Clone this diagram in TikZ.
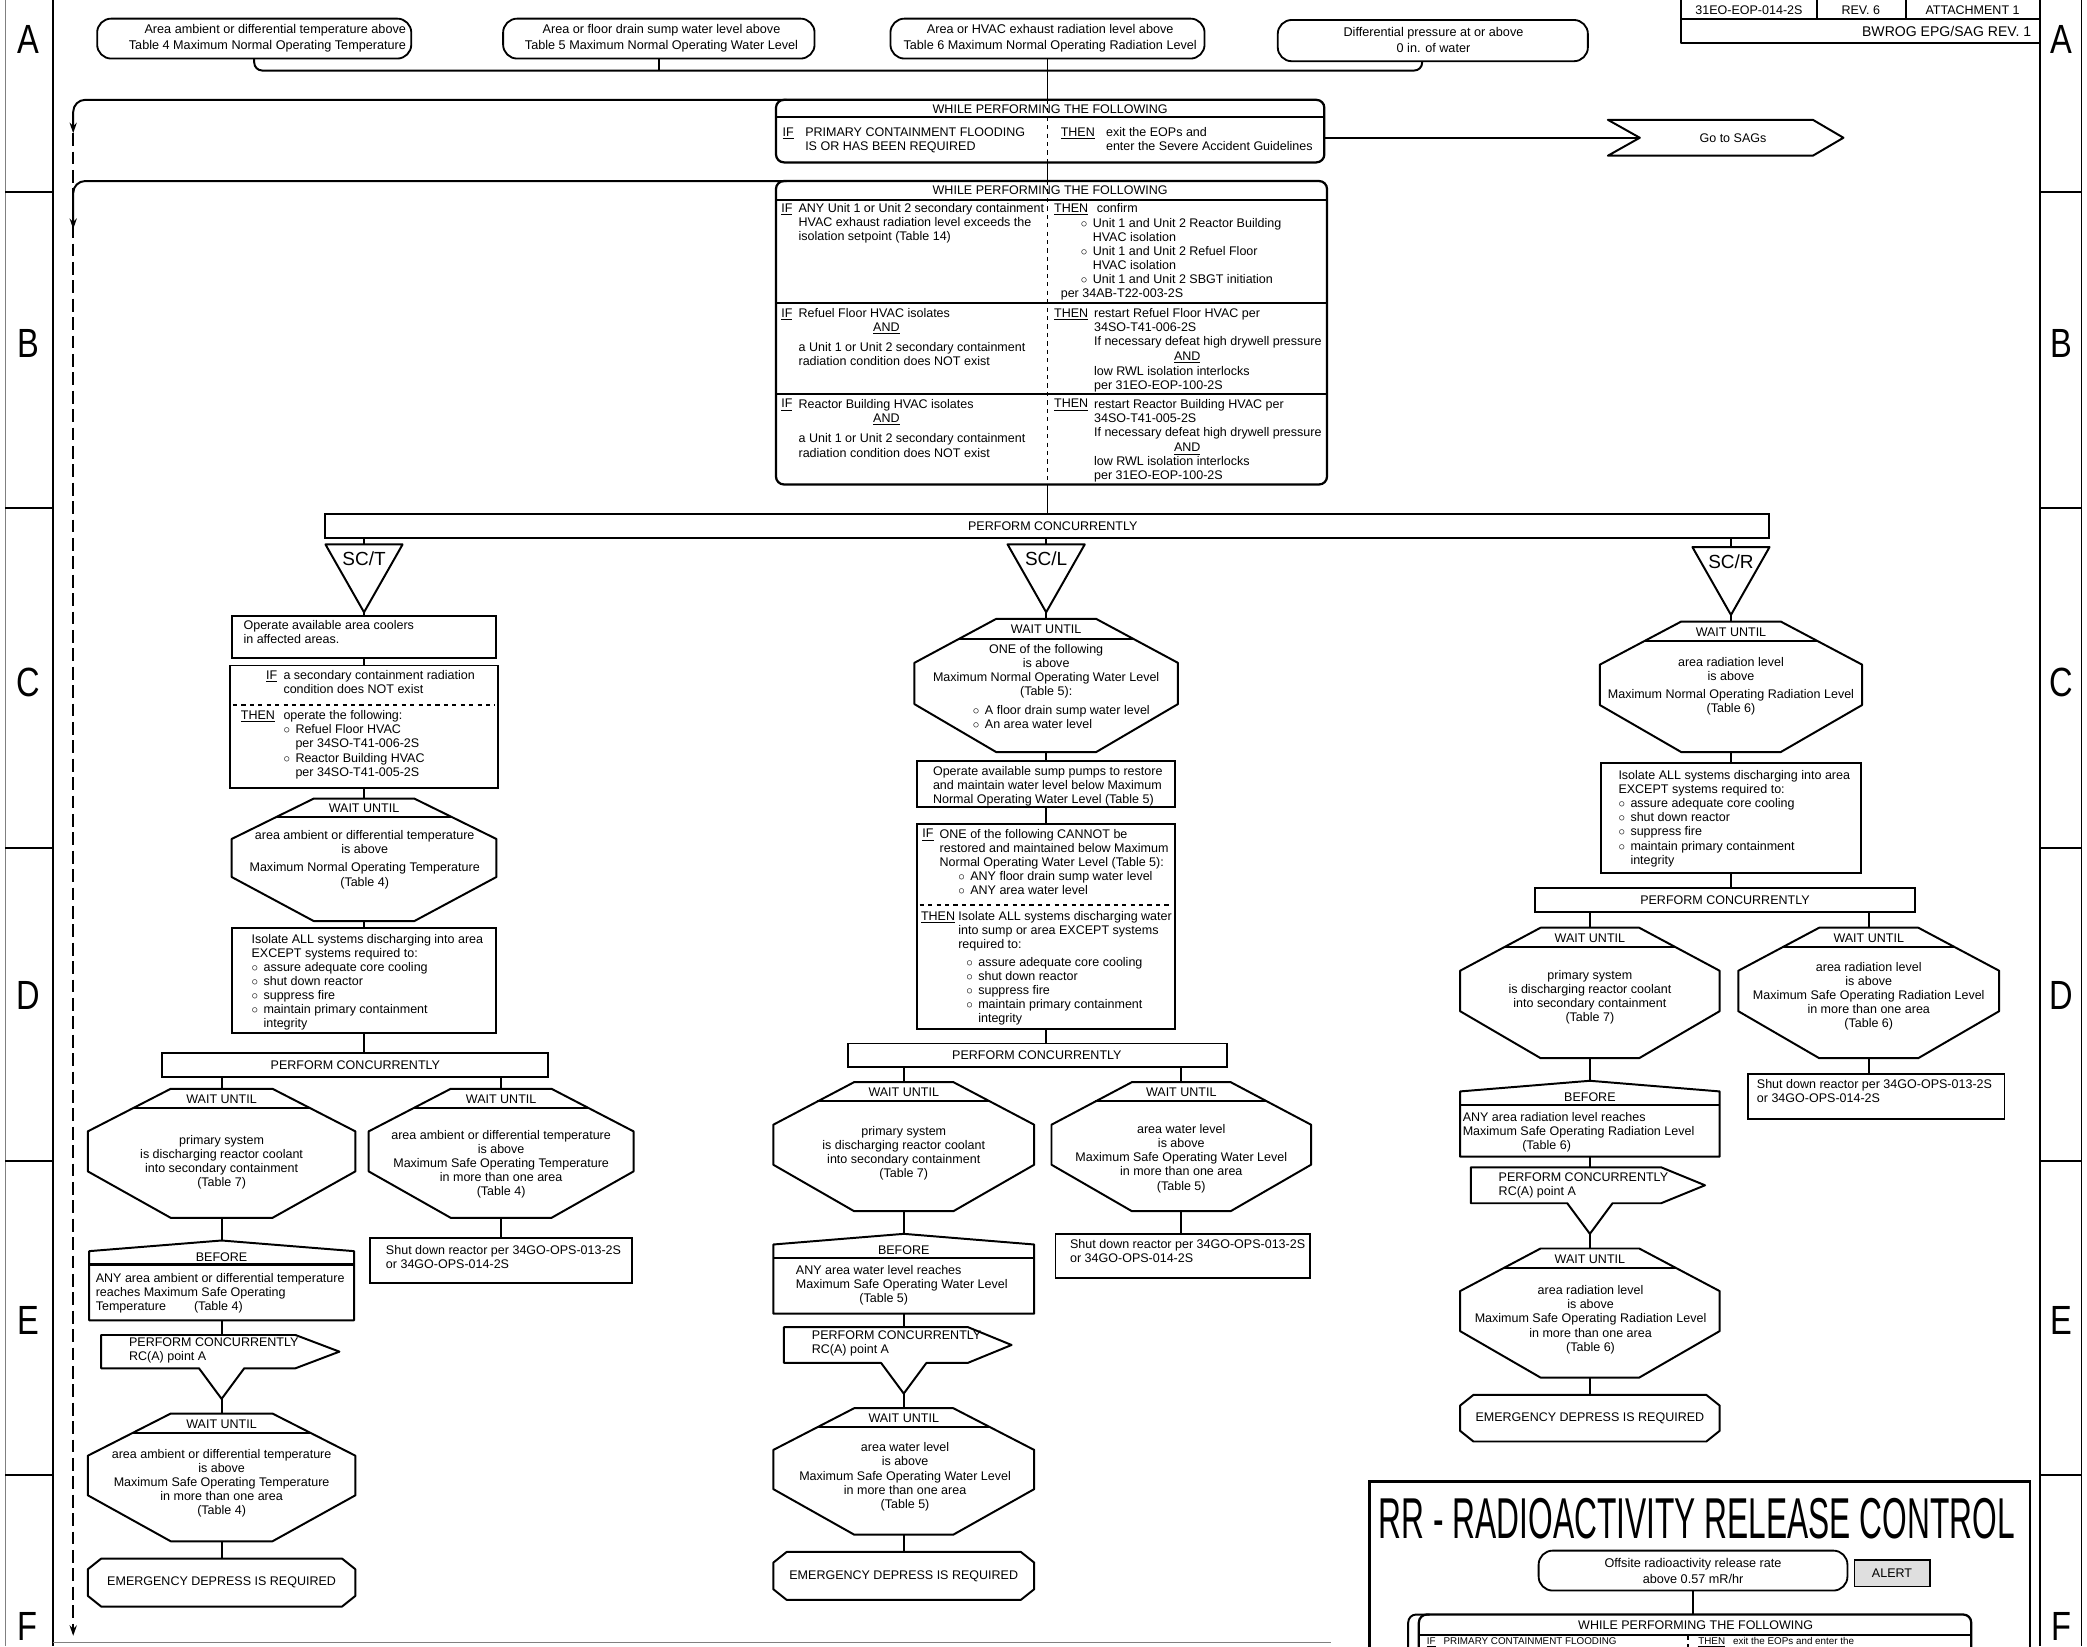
\documentclass[tikz,border=0pt]{standalone}
\usepackage{fontspec}
\setmainfont{Liberation Sans}
\newfontfamily\narrowfont[FakeStretch=0.55]{Liberation Sans}
\newfontfamily\letterfont[FakeStretch=0.8]{Liberation Sans}
\usepackage{graphicx}
\usetikzlibrary{calc,arrows.meta}
\def\U{0.33275mm}
\newcommand\fs{\fontsize{8.9}{10}\selectfont}
\newcommand\fe{\fontsize{9}{11.3}\selectfont}
\newcommand\fsc{\fontsize{13.5}{13.5}\selectfont}
\newcommand\bul{\makebox[3mm][l]{$\circ$}}
\newcommand\bsp{\hspace*{3mm}}
\newcommand\mkBound[5]{\node[anchor=north west,minimum width={(#4)*\U},minimum height={(#5)*\U}] (#1) at (#2,#3) {};}
\newcommand\mkRect[5]{\node[bx,minimum width={(#4)*\U},minimum height={(#5)*\U}] (#1) at (#2,#3) {};}
\newcommand\mkOct[5]{%
 \mkBound{#1}{#2}{#3}{#4}{#5}%
 \draw[ln] ({#2+0.31*#4},#3) -- ({#2+0.69*#4},#3) -- ({#2+#4},{#3+0.33*#5}) -- ({#2+#4},{#3+0.64*#5}) -- ({#2+0.69*#4},{#3+#5}) -- ({#2+0.31*#4},{#3+#5}) -- (#2,{#3+0.64*#5}) -- (#2,{#3+0.33*#5}) -- cycle;
 \draw[ln] ({#2+0.1691*#4},{#3+0.15*#5}) -- ({#2+0.8309*#4},{#3+0.15*#5});
 \node (#1-h) at ({#2+0.5*#4},{#3+0.08*#5}) {WAIT UNTIL};}
\newcommand\mkTri[6]{%
 \mkBound{#1}{#2}{#3}{#4}{#5}%
 \draw[ln] (#2,#3) -- ({#2+#4},#3) -- ({#2+0.5*#4},{#3+#5}) -- cycle;
 \node[font=\fsc] (#1-l) at ({#2+0.5*#4},{#3+11}) {#6};}
\newcommand\mkBef[5]{%
 \mkBound{#1}{#2}{#3}{#4}{#5}%
 \draw[ln] (#2,{#3+8}) -- ({#2+0.5*#4},#3) -- ({#2+#4},{#3+8}) -- ({#2+#4},{#3+#5}) -- (#2,{#3+#5}) -- cycle;
 \draw[line width=1.6pt] (#2,{#3+18}) -- ({#2+#4},{#3+18});
 \node (#1-h) at ({#2+0.5*#4},{#3+12.5}) {BEFORE};}
\newcommand\mkPent[6]{%
 \mkBound{#1}{#2}{#3}{#4}{#5}%
 \draw[ln] (#2,#3) -- ({#2+#4-33},#3) -- ({#2+#4},{#3+0.5*#5}) -- ({#2+#4-33},{#3+#5}) -- ({#6+17},{#3+#5}) -- (#6,{#3+#5+23}) -- ({#6-17},{#3+#5}) -- (#2,{#3+#5}) -- cycle;
 \coordinate (#1-v) at (#6,{#3+#5+23});}
\newcommand\mkEm[5]{%
 \mkBound{#1}{#2}{#3}{#4}{#5}%
 \draw[ln] ({#2+10},#3) -- ({#2+#4-10},#3) -- ({#2+#4},{#3+8}) -- ({#2+#4},{#3+#5-8}) -- ({#2+#4-10},{#3+#5}) -- ({#2+10},{#3+#5}) -- (#2,{#3+#5-8}) -- (#2,{#3+8}) -- cycle;
 \node (#1-t) at ({#2+0.5*#4},{#3+0.5*#5}) {EMERGENCY DEPRESS IS REQUIRED};}
\begin{document}
\begin{tikzpicture}[x=0.33275mm,y=-0.33275mm,
 every node/.style={inner sep=0pt,outer sep=0pt,font=\fs},
 ln/.style={line width=1.4pt,line join=round},
 bx/.style={draw,line width=1.4pt,anchor=north west,rectangle},
 entry/.style={draw,line width=1.3pt,rounded corners=3.5mm,anchor=north west},
 wbox/.style={draw,line width=1.6pt,rounded corners=2mm,anchor=north west},
 tx/.style={anchor=north west,align=left},
 ctx/.style={anchor=north,align=center},
 ltx/.style={font=\letterfont\fontsize{29}{29}\selectfont},
 arr/.style={-{Stealth[length=2.6mm,width=1.8mm]}}]
\useasboundingbox (0,0) rectangle (1568,1237);
\clip (0,0) rectangle (1568,1237);
% ---------- frame ----------
\draw[line width=0.6pt,gray] (4,0) -- (4,1237);
\draw[ln] (40,0) -- (40,1237);
\draw[ln] (1533,0) -- (1533,1237);
\draw[line width=0.6pt] (1564,0) -- (1564,1237);
\foreach \yy in {144,382,637,872,1108}{\draw[ln] (4,\yy) -- (40,\yy); \draw[ln] (1533,\yy) -- (1564,\yy);}
\foreach \l/\yy in {A/30,B/258,C/513,D/748,E/992,F/1222}{\node[ltx] (gl\l) at (21,\yy) {\l}; \node[ltx] (gr\l) at (1549,\yy) {\l};}
\draw[gray,line width=0.8pt] (40,1234) -- (1000,1234);
% ---------- header ----------
\draw[ln] (1263,0) -- (1263,32) -- (1533,32);
\draw[ln] (1263,14.5) -- (1533,14.5);
\draw[ln] (1365,0) -- (1365,14.5);
\draw[ln] (1432,0) -- (1432,14.5);
\node (hd1) at (1314,7.5) {31EO-EOP-014-2S};
\node (hd2) at (1398,7.5) {REV. 6};
\node (hd3) at (1482,7.5) {ATTACHMENT 1};
\node[anchor=east,font=\fontsize{10}{10}\selectfont] (hd4) at (1526,23.5) {BWROG EPG/SAG REV. 1};
% ---------- entry conditions ----------
\node[entry,minimum width={236*\U},minimum height={30*\U}] (e1) at (73,14) {};
\node[anchor=north east,align=right,font=\fe] (e1t) at (305,18.5) {Area ambient or differential temperature above\\Table 4 Maximum Normal Operating Temperature};
\node[entry,minimum width={234*\U},minimum height={30*\U}] (e2) at (378,14) {};
\node[ctx,font=\fe] (e2t) at (497,18.5) {Area or floor drain sump water level above\\Table 5 Maximum Normal Operating Water Level};
\node[entry,minimum width={236*\U},minimum height={30*\U}] (e3) at (669,14) {};
\node[ctx,font=\fe] (e3t) at (789,18.5) {Area or HVAC exhaust radiation level above\\Table 6 Maximum Normal Operating Radiation Level};
\node[entry,minimum width={233*\U},minimum height={31*\U}] (e4) at (960,15) {};
\node[ctx,font=\fe] (e4t) at (1077,20.5) {Differential pressure at or above\\0 in. of water};
\coordinate (jn) at (787,53);
% ---------- WHILE box 1 ----------
\node[wbox,minimum width={412*\U},minimum height={47*\U}] (w1) at (583,75) {};
\draw[ln] (583,88) -- (995,88);
\node (w1t) at (789,82) {WHILE PERFORMING THE FOLLOWING};
\draw[ln,dashed] (787,75) -- (787,122);
\node[tx] (w1i) at (588,96) {\underline{IF}};
\node[tx] (w1ib) at (605,96) {PRIMARY CONTAINMENT FLOODING\\IS OR HAS BEEN REQUIRED};
\node[tx] (w1th) at (797,96) {\underline{THEN}};
\node[tx] (w1tb) at (831,96) {exit the EOPs and\\enter the Severe Accident Guidelines};
\mkBound{sag}{1208}{90}{177}{27}
\draw[ln] (1208,90) -- (1362,90) -- (1385,103.5) -- (1362,117) -- (1208,117) -- (1232,103.5) -- cycle;
\coordinate (sagn) at (1232,103.5);
\node (sagt) at (1302,103.5) {Go to SAGs};
% ---------- WHILE box 2 ----------
\node[wbox,minimum width={414*\U},minimum height={228*\U}] (w2) at (583,136) {};
\draw[ln] (583,150) -- (997,150);
\draw[ln] (583,228) -- (997,228);
\draw[ln] (583,296) -- (997,296);
\node (w2t) at (789,143) {WHILE PERFORMING THE FOLLOWING};
\draw[ln,dashed] (787,136) -- (787,364);
\node[tx] (r1i) at (587,153) {\underline{IF}};
\node[tx] (r1ib) at (600,153) {ANY Unit 1 or Unit 2 secondary containment\\HVAC exhaust radiation level exceeds the\\isolation setpoint (Table 14)};
\node[tx] (r1t) at (792,153) {\underline{THEN}};
\node[tx] (r1tb) at (824,153) {confirm};
\node[tx] (r1tc) at (812,164) {\bul Unit 1 and Unit 2 Reactor Building\\\bsp HVAC isolation\\\bul Unit 1 and Unit 2 Refuel Floor\\\bsp HVAC isolation\\\bul Unit 1 and Unit 2 SBGT initiation};
\node[tx] (r1td) at (797,217) {per 34AB-T22-003-2S};
\node[tx] (r2i) at (587,232) {\underline{IF}};
\node[tx] (r2ib) at (600,232) {Refuel Floor HVAC isolates};
\node[ctx] (r2ia) at (666,242.5) {\underline{AND}};
\node[tx] (r2ic) at (600,257) {a Unit 1 or Unit 2 secondary containment\\radiation condition does NOT exist};
\node[tx] (r2t) at (792,232) {\underline{THEN}};
\node[tx] (r2tb) at (822,232) {restart Refuel Floor HVAC per\\34SO-T41-006-2S\\If necessary defeat high drywell pressure};
\node[ctx] (r2ta) at (892,264.5) {\underline{AND}};
\node[tx] (r2tc) at (822,275) {low RWL isolation interlocks\\per 31EO-EOP-100-2S};
\node[tx] (r3i) at (587,300) {\underline{IF}};
\node[tx] (r3ib) at (600,300) {Reactor Building HVAC isolates};
\node[ctx] (r3ia) at (666,311) {\underline{AND}};
\node[tx] (r3ic) at (600,326) {a Unit 1 or Unit 2 secondary containment\\radiation condition does NOT exist};
\node[tx] (r3t) at (792,300) {\underline{THEN}};
\node[tx] (r3tb) at (822,300) {restart Reactor Building HVAC per\\34SO-T41-005-2S\\If necessary defeat high drywell pressure};
\node[ctx] (r3ta) at (892,333) {\underline{AND}};
\node[tx] (r3tc) at (822,343) {low RWL isolation interlocks\\per 31EO-EOP-100-2S};
% ---------- main perform concurrently ----------
\mkRect{barM}{244}{386}{1085}{18}
\node (barMt) at (791,395) {PERFORM CONCURRENTLY};
\mkTri{scT}{244.5}{409}{58}{51}{SC/T}
\mkTri{scL}{757}{409}{58}{51}{SC/L}
\mkTri{scR}{1271.5}{411}{58}{51}{SC/R}
% ---------- left column ----------
\mkRect{cool}{174}{463}{199}{31}
\node[tx] (coolt) at (183,466) {Operate available area coolers\\in affected areas.};
\mkRect{ifL}{173}{500}{201}{92}
\node[tx] (ifLi) at (200,504) {\underline{IF}};
\node[tx] (ifLb) at (213,504) {a secondary containment radiation\\condition does NOT exist};
\draw[ln,dashed] (175,530) -- (372,530);
\node[tx] (ifLt) at (181,534) {\underline{THEN}};
\node[tx] (ifLtb) at (213,534) {operate the following:\\\bul Refuel Floor HVAC\\\bsp per 34SO-T41-006-2S\\\bul Reactor Building HVAC\\\bsp per 34SO-T41-005-2S};
\mkOct{L1}{174}{600}{199}{92}
\node[ctx] (L1b) at (274,624) {area ambient or differential temperature\\is above\\[3pt]Maximum Normal Operating Temperature\\(Table 4)};
\mkRect{isoL}{174}{697}{199}{79}
\node[tx] (isoLt) at (189,702) {Isolate ALL systems discharging into area\\EXCEPT systems required to:\\\bul assure adequate core cooling\\\bul shut down reactor\\\bul suppress fire\\\bul maintain primary containment\\\bsp integrity};
\mkRect{barL}{122}{791}{290}{18}
\node (barLt) at (267,800) {PERFORM CONCURRENTLY};
\mkOct{L2}{66}{818}{201}{97}
\node[ctx] (L2b) at (166.5,853) {primary system\\is discharging reactor coolant\\into secondary containment\\(Table 7)};
\mkOct{L3}{277}{818}{199}{97}
\node[ctx] (L3b) at (376.5,849) {area ambient or differential temperature\\is above\\Maximum Safe Operating Temperature\\in more than one area\\(Table 4)};
\mkRect{sdL}{278}{930}{197}{34}
\node[tx] (sdLt) at (290,936) {Shut down reactor per 34GO-OPS-013-2S\\or 34GO-OPS-014-2S};
\mkBef{befL}{67}{932}{199}{60}
\node[tx] (befLt) at (72,957) {ANY area ambient or differential temperature\\reaches Maximum Safe Operating\\Temperature\hspace{7mm}(Table 4)};
\mkPent{pentL}{76}{1003}{179}{25}{166.5}
\node[tx] (pentLt) at (97,1005) {PERFORM CONCURRENTLY\\RC(A) point A};
\mkOct{L4}{66}{1062}{201}{96}
\node[ctx] (L4b) at (166.5,1089) {area ambient or differential temperature\\is above\\Maximum Safe Operating Temperature\\in more than one area\\(Table 4)};
\mkEm{emL}{66}{1171}{201}{36}
% ---------- center column ----------
\mkOct{C1}{687}{465}{198}{100}
\node[ctx] (C1b) at (786,484) {ONE of the following\\is above\\Maximum Normal Operating Water Level\\(Table 5):};
\node[tx] (C1c) at (731,530) {\bul A floor drain sump water level\\\bul An area water level};
\mkRect{C2b}{689}{572}{194}{34}
\node[tx] (C2bt) at (701,576) {Operate available sump pumps to restore\\and maintain water level below Maximum\\Normal Operating Water Level (Table 5)};
\mkRect{C3b}{689}{619}{194}{154}
\node[tx] (C3i) at (693,623) {\underline{IF}};
\node[tx] (C3ib) at (706,623) {ONE of the following CANNOT be\\restored and maintained below Maximum\\Normal Operating Water Level (Table 5):};
\node[tx] (C3ic) at (720,655) {\bul ANY floor drain sump water level\\\bul ANY area water level};
\draw[ln,dashed] (691,680) -- (881,680);
\node[tx] (C3t) at (692,685) {\underline{THEN}};
\node[tx] (C3tb) at (720,685) {Isolate ALL systems discharging water\\into sump or area EXCEPT systems\\required to:};
\node[tx] (C3tc) at (726,719) {\bul assure adequate core cooling\\\bul shut down reactor\\\bul suppress fire\\\bul maintain primary containment\\\bsp integrity};
\mkRect{barC}{637}{784}{285}{18}
\node (barCt) at (779,793) {PERFORM CONCURRENTLY};
\mkOct{C2L}{581}{813}{196}{97}
\node[ctx] (C2Lb) at (679,846) {primary system\\is discharging reactor coolant\\into secondary containment\\(Table 7)};
\mkOct{C2R}{790}{813}{195}{97}
\node[ctx] (C2Rb) at (887.5,845) {area water level\\is above\\Maximum Safe Operating Water Level\\in more than one area\\(Table 5)};
\mkRect{sdC}{793}{927}{191}{33}
\node[tx] (sdCt) at (804,931) {Shut down reactor per 34GO-OPS-013-2S\\or 34GO-OPS-014-2S};
\mkBef{befC}{581}{927}{196}{60}
\node[tx] (befCt) at (598,951) {ANY area water level reaches\\Maximum Safe Operating Water Level};
\node (befCt2) at (664,976) {(Table 5)};
\mkPent{pentC}{589}{997}{171}{27}{679}
\node[tx] (pentCt) at (610,1000) {PERFORM CONCURRENTLY\\RC(A) point A};
\mkOct{C3o}{581}{1058}{196}{95}
\node[ctx] (C3ob) at (680,1084) {area water level\\is above\\Maximum Safe Operating Water Level\\in more than one area\\(Table 5)};
\mkEm{emC}{581}{1166}{196}{36}
% ---------- right column ----------
\mkOct{R1}{1202}{467}{197}{98}
\node[ctx] (R1b) at (1300.5,494) {area radiation level\\is above\\[3pt]Maximum Normal Operating Radiation Level\\(Table 6)};
\mkRect{R2b}{1203}{573}{195}{83}
\node[tx] (R2bt) at (1216,579) {Isolate ALL systems discharging into area\\EXCEPT systems required to:\\\bul assure adequate core cooling\\\bul shut down reactor\\\bul suppress fire\\\bul maintain primary containment\\\bsp integrity};
\mkRect{barR}{1153}{667}{286}{18}
\node (barRt) at (1296,676) {PERFORM CONCURRENTLY};
\mkOct{R3L}{1097}{697}{195}{98}
\node[ctx] (R3Lb) at (1194.5,729) {primary system\\is discharging reactor coolant\\into secondary containment\\(Table 7)};
\mkOct{R3R}{1306}{697}{196}{98}
\node[ctx] (R3Rb) at (1404,723) {area radiation level\\is above\\Maximum Safe Operating Radiation Level\\in more than one area\\(Table 6)};
\mkRect{sdR}{1313}{807}{193}{34}
\node[tx] (sdRt) at (1320,811) {Shut down reactor per 34GO-OPS-013-2S\\or 34GO-OPS-014-2S};
\mkBef{befR}{1097}{812}{195}{57}
\node[tx] (befRt) at (1099,836) {ANY area radiation level reaches\\Maximum Safe Operating Radiation Level};
\node (befRt2) at (1162,861) {(Table 6)};
\mkPent{pentR}{1105}{877}{176}{27}{1194.5}
\node[tx] (pentRt) at (1126,881) {PERFORM CONCURRENTLY\\RC(A) point A};
\mkOct{R4}{1097}{938}{195}{97}
\node[ctx] (R4b) at (1195,966) {area radiation level\\is above\\Maximum Safe Operating Radiation Level\\in more than one area\\(Table 6)};
\mkEm{emR}{1097}{1048}{195}{35}
% ---------- RR block ----------
\draw[line width=1.7pt] (1029,1245) -- (1029,1113) -- (1525,1113) -- (1525,1245);
\node[anchor=base west,font=\narrowfont\fontsize{41}{41}\selectfont] (rrt) at (1036,1156) {RR - RADIOACTIVITY RELEASE CONTROL};
\node[entry,minimum width={232*\U},minimum height={30*\U}] (off) at (1156,1165) {};
\node[ctx,font=\fe] (offt) at (1272,1170.5) {Offsite radioactivity release rate\\above 0.57 mR/hr};
\node[draw,line width=0.8pt,fill=gray!25,anchor=north west,minimum width={57*\U},minimum height={20*\U}] (alert) at (1393,1172) {};
\node (alertt) at (1421.5,1182) {ALERT};
\node[wbox,minimum width={415*\U},minimum height={60*\U}] (w3) at (1066,1213) {};
\draw[ln] (1066,1228.5) -- (1481,1228.5);
\node (w3t) at (1274,1221) {WHILE PERFORMING THE FOLLOWING};
\draw[ln,dashed] (1268,1229) -- (1268,1280);
\node[tx,font=\fontsize{7}{7}\selectfont] (w3i) at (1072,1230.3) {\underline{IF}\hspace{2mm}PRIMARY CONTAINMENT FLOODING};
\node[tx,font=\fontsize{7}{7}\selectfont] (w3th) at (1276,1230.3) {\underline{THEN}\hspace{2mm}exit the EOPs and enter the};
% ---------- connectors ----------
\draw[ln,rounded corners=2mm] (e1.south) |- (jn);
\draw[ln,rounded corners=2mm] ($(e4.south)+(-8,0)$) |- (jn);
\draw[ln] (e2.south) -- (e2.south |- jn);
\draw[ln] (e3.south) -- (e3.south |- w1.north);
\draw[ln] (w1.south -| jn) -- (w2.north -| jn);
\draw[ln] (w2.south -| jn) -- (barM.north -| jn);
\draw[ln] (w1.east |- sagn) -- (sagn);
\coordinate (lp1) at (55,100);
\coordinate (lp2) at (55,1229);
\coordinate (lp3) at (55,172);
\draw[ln,rounded corners=3mm,arr] ($(w1.north west)+(8,0)$) -| (lp1);
\draw[ln,arr,dash pattern=on 3.2mm off 1.4mm] (lp1) -- (lp2);
\draw[ln,rounded corners=3mm,arr] ($(w2.north west)+(8,0)$) -| (lp3);
\draw[ln,rounded corners=2mm] ($(w3.north west)+(8,0)$) -| (1058,1250);
\draw[ln] (off.south) -- (off.south |- w3.north);
\draw[ln] (barM.south -| scT.north) -- (scT.north);
\draw[ln] (barM.south -| scL.north) -- (scL.north);
\draw[ln] (barM.south -| scR.north) -- (scR.north);
% left
\draw[ln] (scT.south) -- (scT.south |- cool.north);
\draw[ln] (cool.south) -- (cool.south |- ifL.north);
\draw[ln] (ifL.south) -- (ifL.south |- L1.north);
\draw[ln] (L1.south) -- (L1.south |- isoL.north);
\draw[ln] (isoL.south) -- (isoL.south |- barL.north);
\draw[ln] (barL.south -| L2.north) -- (L2.north);
\draw[ln] (barL.south -| L3.north) -- (L3.north);
\draw[ln] (L3.south) -- (L3.south |- sdL.north);
\draw[ln] (L2.south) -- (L2.south |- befL.north);
\draw[ln] (befL.south) -- (befL.south |- pentL.north);
\draw[ln] (pentL-v) -- (pentL-v |- L4.north);
\draw[ln] (L4.south) -- (L4.south |- emL.north);
% center
\draw[ln] (scL.south) -- (scL.south |- C1.north);
\draw[ln] (C1.south) -- (C1.south |- C2b.north);
\draw[ln] (C2b.south) -- (C2b.south |- C3b.north);
\draw[ln] (C3b.south) -- (C3b.south |- barC.north);
\draw[ln] (barC.south -| C2L.north) -- (C2L.north);
\draw[ln] (barC.south -| C2R.north) -- (C2R.north);
\draw[ln] (C2R.south) -- (C2R.south |- sdC.north);
\draw[ln] (C2L.south) -- (C2L.south |- befC.north);
\draw[ln] (befC.south) -- (befC.south |- pentC.north);
\draw[ln] (pentC-v) -- (pentC-v |- C3o.north);
\draw[ln] (C3o.south) -- (C3o.south |- emC.north);
% right
\draw[ln] (scR.south) -- (scR.south |- R1.north);
\draw[ln] (R1.south) -- (R1.south |- R2b.north);
\draw[ln] (R2b.south) -- (R2b.south |- barR.north);
\draw[ln] (barR.south -| R3L.north) -- (R3L.north);
\draw[ln] (barR.south -| R3R.north) -- (R3R.north);
\draw[ln] (R3R.south) -- (R3R.south |- sdR.north);
\draw[ln] (R3L.south) -- (R3L.south |- befR.north);
\draw[ln] (befR.south) -- (befR.south |- pentR.north);
\draw[ln] (pentR-v) -- (pentR-v |- R4.north);
\draw[ln] (R4.south) -- (R4.south |- emR.north);
\end{tikzpicture}
\end{document}
